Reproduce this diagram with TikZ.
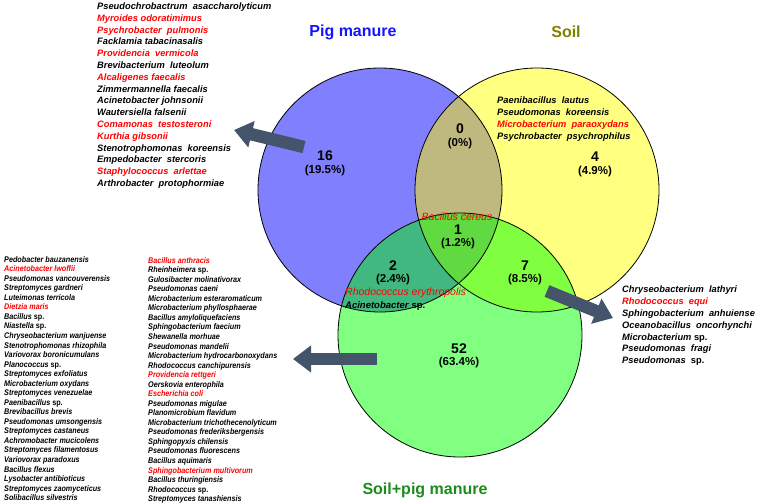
\documentclass[tikz,border=0pt]{standalone}
\usepackage{fontspec}
\setmainfont{Liberation Sans}
\newfontfamily\listfont[FakeStretch=0.88]{Liberation Sans}
\usetikzlibrary{arrows.meta}

\definecolor{pigfill}{HTML}{8080FF}
\definecolor{soilfill}{HTML}{FFFF80}
\definecolor{mixfill}{HTML}{80FF80}
\definecolor{pigsoil}{HTML}{BFB980}
\definecolor{pigmix}{HTML}{40B880}
\definecolor{soilmix}{HTML}{80FF40}
\definecolor{allthree}{HTML}{60DA40}
\definecolor{arrowgray}{HTML}{44546A}
\definecolor{pigtitle}{HTML}{1414FF}
\definecolor{soiltitle}{HTML}{808000}
\definecolor{mixtitle}{HTML}{1A8C1A}

\newcommand{\rd}[1]{\textcolor{red}{#1}}

\tikzset{
  venn/.style={draw=black, line width=0.8pt},
  count/.style={font=\bfseries\fontsize{14}{14}\selectfont, inner sep=0pt},
  share/.style={font=\bfseries\fontsize{11.5}{11.5}\selectfont, inner sep=0pt},
  title/.style={font=\bfseries\fontsize{16}{16}\selectfont, inner sep=0pt},
  biglist/.style={font=\bfseries\itshape\fontsize{9.3}{11.8}\selectfont, align=left, anchor=north west, inner sep=0pt},
  smalllist/.style={font=\listfont\bfseries\itshape\fontsize{8.2}{9.54}\selectfont, align=left, anchor=north west, inner sep=0pt},
  inlabel/.style={font=\itshape\fontsize{10.5}{10.5}\selectfont, inner sep=0pt},
  bigarrow/.style={draw=arrowgray, line width=12.5pt, -{Triangle[width=26pt,length=18pt]}},
}

\begin{document}
\begin{tikzpicture}[x=1pt, y=-1pt]
  \useasboundingbox (0,0) rectangle (760,503);
  \coordinate (pigc) at (380,190);
  \coordinate (soilc) at (537,190);
  \coordinate (mixc) at (460,335);

  % circles and overlaps
  \fill[pigfill] (pigc) circle[radius=122pt];
  \fill[soilfill] (soilc) circle[radius=122pt];
  \fill[mixfill] (mixc) circle[radius=122pt];
  \begin{scope}
    \clip (soilc) circle[radius=122pt];
    \fill[soilmix] (mixc) circle[radius=122pt];
  \end{scope}
  \begin{scope}
    \clip (pigc) circle[radius=122pt];
    \fill[pigsoil] (soilc) circle[radius=122pt];
    \fill[pigmix] (mixc) circle[radius=122pt];
    \clip (soilc) circle[radius=122pt];
    \fill[allthree] (mixc) circle[radius=122pt];
  \end{scope}
  \draw[venn] (pigc) circle[radius=122pt];
  \draw[venn] (soilc) circle[radius=122pt];
  \draw[venn] (mixc) circle[radius=122pt];

  % titles
  \node[title, text=pigtitle] (pigname) at (353,32) {Pig manure};
  \node[title, text=soiltitle] (soilname) at (566,32) {Soil};
  \node[title, text=mixtitle] (mixname) at (425,490) {Soil+pig manure};

  % counts
  \node[count] (n16) at (325,156) {16};
  \node[share] (p16) at (325,171) {(19.5\%)};
  \node[count] (n0) at (460,129) {0};
  \node[share] (p0) at (460,144) {(0\%)};
  \node[count] (n4) at (595,157) {4};
  \node[share] (p4) at (595,172) {(4.9\%)};
  \node[count] (n1) at (458,230) {1};
  \node[share] (p1) at (458,244) {(1.2\%)};
  \node[count] (n2) at (393,266) {2};
  \node[share] (p2) at (393,280) {(2.4\%)};
  \node[count] (n7) at (525,266) {7};
  \node[share] (p7) at (525,280) {(8.5\%)};
  \node[count] (n52) at (459,349) {52};
  \node[share] (p52) at (459,363) {(63.4\%)};

  % species inside the overlaps
  \node[inlabel, text=red] (cereus) at (457,217) {Bacillus cereus};
  \node[inlabel, text=red, anchor=west] (erythro) at (345,293) {Rhodococcus erythropolis};
  \node[inlabel, font=\bfseries\itshape\fontsize{9.5}{9.5}\selectfont, anchor=west] (acineto) at (345,306) {Acinetobacter \textup{sp.}};

  % species lists
  \node[biglist] (piglist) at (97,2.5) {Pseudochrobactrum\ \ asaccharolyticum\\
    \rd{Myroides odoratimimus}\\
    \rd{Psychrobacter\ \ pulmonis}\\
    Facklamia tabacinasalis\\
    \rd{Providencia\ \ vermicola}\\
    Brevibacterium\ \ luteolum\\
    \rd{Alcaligenes faecalis}\\
    Zimmermannella faecalis\\
    Acinetobacter johnsonii\\
    Wautersiella falsenii\\
    \rd{Comamonas\ \ testosteroni}\\
    \rd{Kurthia gibsonii}\\
    Stenotrophomonas\ \ koreensis\\
    Empedobacter\ \ stercoris\\
    \rd{Staphylococcus\ \ arlettae}\\
    Arthrobacter\ \ protophormiae};
  \node[biglist] (soillist) at (497,97) {Paenibacillus\ \ lautus\\
    Pseudomonas\ \ koreensis\\
    \rd{Microbacterium\ \ paraoxydans}\\
    Psychrobacter\ \ psychrophilus};
  \node[biglist] (mixlist) at (622,286) {Chryseobacterium\ \ lathyri\\
    \rd{Rhodococcus\ \ equi}\\
    Sphingobacterium\ \ anhuiense\\
    Oceanobacillus\ \ oncorhynchi\\
    Microbacterium \textup{sp.}\\
    Pseudomonas\ \ fragi\\
    Pseudomonas\ \ \textup{sp.}};
  \node[smalllist] (leftcol) at (4,256) {Pedobacter bauzanensis\\
    \rd{Acinetobacter lwoffii}\\
    Pseudomonas vancouverensis\\
    Streptomyces gardneri\\
    Luteimonas terricola\\
    \rd{Dietzia maris}\\
    Bacillus \textup{sp.}\\
    Niastella \textup{sp.}\\
    Chryseobacterium wanjuense\\
    Stenotrophomonas rhizophila\\
    Variovorax boronicumulans\\
    Planococcus \textup{sp.}\\
    Streptomyces exfoliatus\\
    Microbacterium oxydans\\
    Streptomyces venezuelae\\
    Paenibacillus \textup{sp.}\\
    Brevibacillus brevis\\
    Pseudomonas umsongensis\\
    Streptomyces castaneus\\
    Achromobacter mucicolens\\
    Streptomyces filamentosus\\
    Variovorax paradoxus\\
    Bacillus flexus\\
    Lysobacter antibioticus\\
    Streptomyces zaomyceticus\\
    Solibacillus silvestris};
  \node[smalllist] (rightcol) at (148,257) {\rd{Bacillus anthracis}\\
    Rheinheimera \textup{sp.}\\
    Gulosibacter molinativorax\\
    Pseudomonas caeni\\
    Microbacterium esteraromaticum\\
    Microbacterium phyllosphaerae\\
    Bacillus amyloliquefaciens\\
    Sphingobacterium faecium\\
    Shewanella morhuae\\
    Pseudomonas mandelii\\
    Microbacterium hydrocarbonoxydans\\
    Rhodococcus canchipurensis\\
    \rd{Providencia rettgeri}\\
    Oerskovia enterophila\\
    \rd{Escherichia coli}\\
    Pseudomonas migulae\\
    Planomicrobium flavidum\\
    Microbacterium trichothecenolyticum\\
    Pseudomonas frederiksbergensis\\
    Sphingopyxis chilensis\\
    Pseudomonas fluorescens\\
    Bacillus aquimaris\\
    \rd{Sphingobacterium multivorum}\\
    Bacillus thuringiensis\\
    Rhodococcus \textup{sp.}\\
    Streptomyces tanashiensis};

  % arrows to the lists
  \coordinate (pigtail) at (304,147);
  \coordinate (pigtip) at (234,130);
  \coordinate (mixtail) at (377,359);
  \coordinate (mixtip) at (293,359);
  \coordinate (sevtail) at (547,291);
  \coordinate (sevtip) at (613,318);
  \draw[bigarrow] (pigtail) -- (pigtip);
  \draw[bigarrow] (mixtail) -- (mixtip);
  \draw[bigarrow] (sevtail) -- (sevtip);
\end{tikzpicture}
\end{document}
